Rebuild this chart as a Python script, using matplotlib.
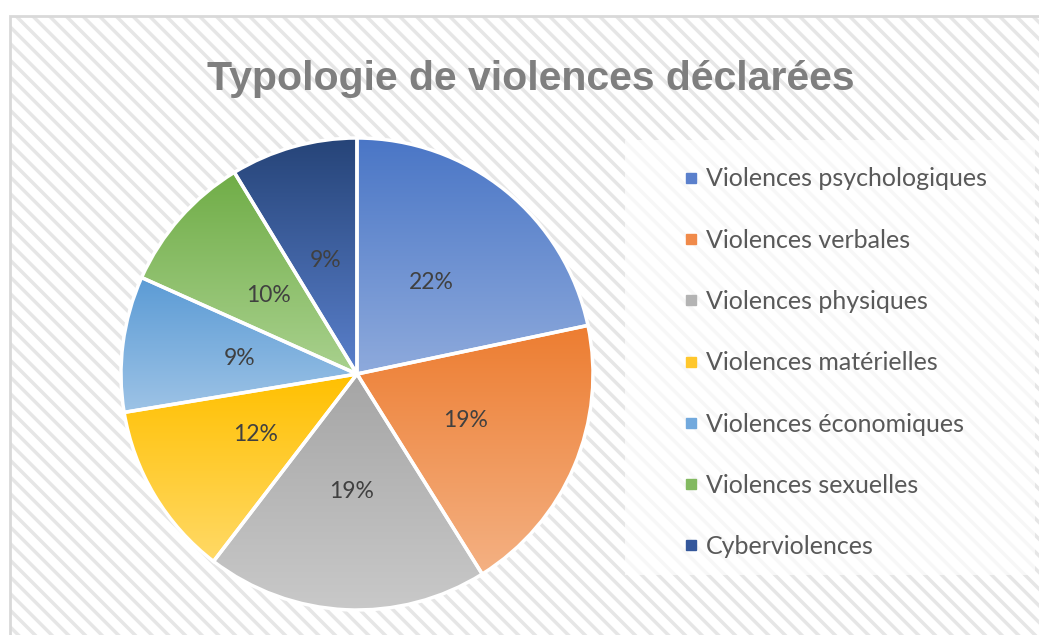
import numpy as np
import matplotlib
matplotlib.use("Agg")
import matplotlib.pyplot as plt
from matplotlib.patches import Rectangle
from matplotlib.lines import Line2D
from matplotlib.colors import to_rgb

# données
labels = ["Violences psychologiques", "Violences verbales", "Violences physiques",
          "Violences matérielles", "Violences économiques", "Violences sexuelles",
          "Cyberviolences"]
values = [21.7, 19.4, 19.3, 12.0, 9.3, 9.6, 8.7]
top_colors = ["#4a76c6", "#ed7d31", "#a5a5a5", "#ffc000", "#5b9bd5", "#70ad47", "#264478"]
bottom_colors = ["#8eaadc", "#f4b183", "#c9c9c9", "#ffd966", "#9dc3e6", "#a9d18e", "#5a80cc"]
legend_colors = ["#5b80cc", "#f08a4a", "#b3b3b3", "#ffc72c", "#72a9dd", "#82b960", "#34579b"]

W, H = 1039, 635
plt.rcParams["hatch.linewidth"] = 2.5
fig = plt.figure(figsize=(W / 100, H / 100), dpi=100)
fig.patch.set_facecolor("white")

# fond hachuré + cadre
fig.patches.append(Rectangle((10 / W, 0), 1.0, 1 - 16 / H, transform=fig.transFigure,
                             facecolor="white", edgecolor="#e6e6e6", hatch="\\\\",
                             linewidth=0, zorder=-3))
fig.patches.append(Rectangle((10 / W, -0.01), 1.0, 1 - 16 / H + 0.01, transform=fig.transFigure,
                             facecolor="none", edgecolor="#d9d9d9", linewidth=2, zorder=-2))
# zone légende
fig.patches.append(Rectangle((625 / W, 1 - 575 / H), 410 / W, 435 / H, transform=fig.transFigure,
                             facecolor="white", alpha=0.7, linewidth=0, zorder=-2))

# camembert
cx, cy, r = 357, 374, 236
half = 240
ax = fig.add_axes([(cx - half) / W, (H - cy - half) / H, 2 * half / W, 2 * half / H])
ax.set_facecolor("none")
wedges, texts, autotexts = ax.pie(values, startangle=90, counterclock=False,
                                  autopct="%1.0f%%", pctdistance=0.5,
                                  wedgeprops=dict(edgecolor="white", linewidth=2.5),
                                  textprops=dict(color="#404040", fontsize=16.5, family="Lato"))
for w, c1, c2 in zip(wedges, top_colors, bottom_colors):
    v = w.get_path().vertices
    x0, x1 = v[:, 0].min(), v[:, 0].max()
    y0, y1 = v[:, 1].min(), v[:, 1].max()
    t = np.linspace(0, 1, 256)[:, None]
    grad = (1 - t) * np.array(to_rgb(c1)) + t * np.array(to_rgb(c2))
    im = ax.imshow(grad[:, None, :], extent=(x0, x1, y0, y1), origin="upper",
                   aspect="auto", zorder=1, interpolation="bilinear")
    im.set_clip_path(w)
    w.set_facecolor("none")
    w.set_zorder(2)
for t_ in autotexts:
    t_.set_zorder(3)
lim = half / r
ax.set_xlim(-lim, lim)
ax.set_ylim(-lim, lim)
ax.set_aspect("equal")
ax.axis("off")

# titre
fig.text(531 / W, 1 - 90 / H, "Typologie de violences déclarées", ha="center", va="baseline",
         fontsize=29.5, fontweight="bold", color="#7f7f7f", family="Liberation Sans")

# légende
handles = [Line2D([], [], marker="s", linestyle="", markersize=7, color=c) for c in legend_colors]
fig.legend(handles, labels, loc="upper left", bbox_to_anchor=(661 / W, 1 - 145 / H),
           frameon=False, handlelength=0.6, handletextpad=0.3, labelspacing=1.53,
           prop=dict(family="Lato", size=18), labelcolor="#595959")

fig.savefig("out.png", dpi=100)
